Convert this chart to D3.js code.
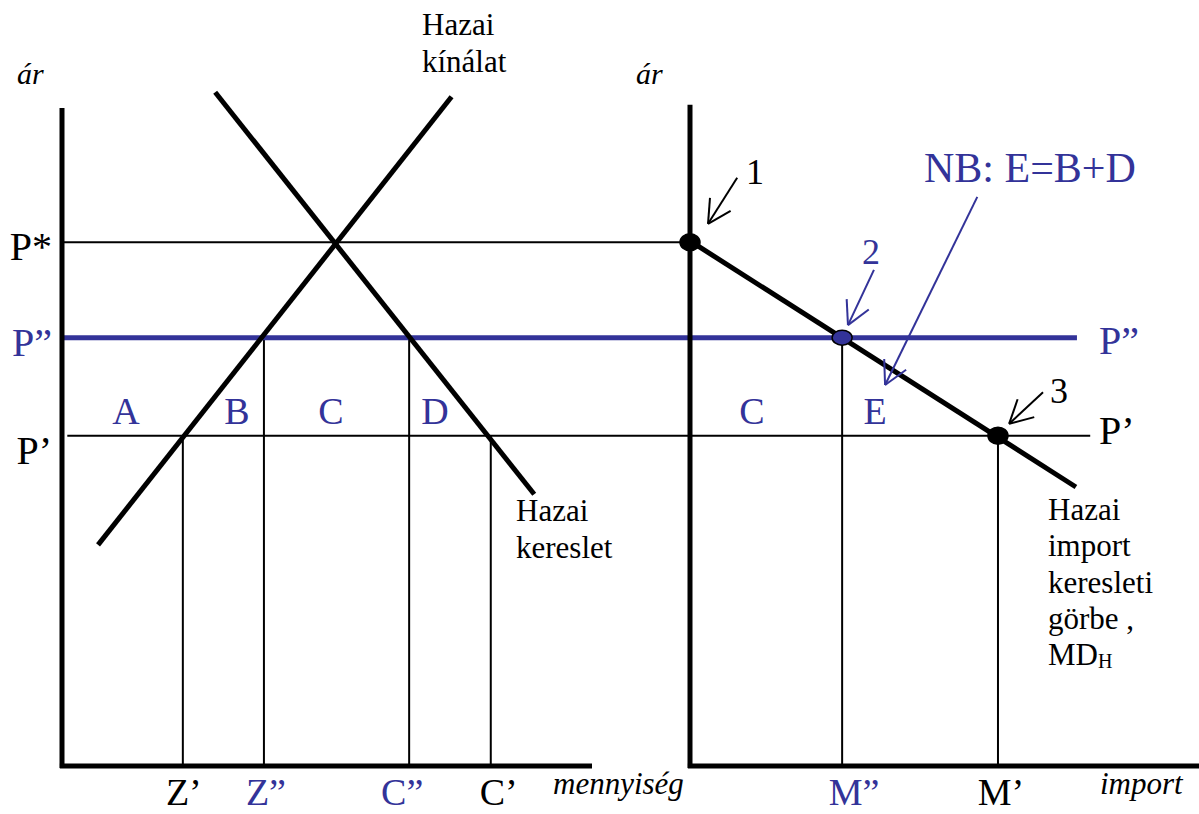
<!DOCTYPE html>
<html>
<head>
<meta charset="utf-8">
<script src="https://cdn.jsdelivr.net/npm/d3@7"></script>
<style>
  body { margin: 0; background: #fff; }
  svg { display: block; }
  text { font-family: "Liberation Serif", "Times New Roman", serif; }
</style>
</head>
<body>
<div id="chart"></div>
<script>
// árszintek (közös függőleges tengely)
const priceNames = ['P*', 'P\u201D', 'P\u2019'];
const priceValues = [7.96, 6.51, 5.02];

// bal oldali panel: mennyiségek
const qtyNames = ['Z\u2019', 'Z\u201D', 'C\u201D', 'C\u2019'];
const qtyValues = [2.28, 3.81, 6.55, 8.09];
const qtyPrice = [5.02, 6.51, 6.51, 5.02];

// jobb oldali panel: import
const importNames = ['M\u201D', 'M\u2019'];
const importValues = [2.87, 5.81];
const importPrice = [6.51, 5.02];

// görbék [mennyiség, ár]
const supplyCurve = [[0.68, 3.36], [7.35, 10.17]];
const demandCurve = [[2.89, 10.24], [8.91, 4.13]];
const importDemand = [[0, 7.98], [7.28, 4.24]];

// pontok a MD görbén
const pointImport = [0, 2.87, 5.81];
const pointPrice = [7.96, 6.51, 5.02];

// nyilak (jobb panel egységekben): [x1, y1, x2, y2]
const arrowBlack = [[0.89, 8.94, 0.34, 8.24], [6.66, 5.68, 6.02, 5.20]];
const arrowBlue = [[3.47, 7.54, 2.98, 6.70], [5.42, 8.65, 3.68, 5.79]];

const BLUE = '#333399';
const W = 1199, H = 814;

const svg = d3.select('#chart').append('svg')
    .attr('width', W).attr('height', H);

const y = d3.scaleLinear().domain([0, 10]).range([766, 108]);
const xL = d3.scaleLinear().domain([0, 10]).range([62, 592]);
const xR = d3.scaleLinear().domain([0, 9.64]).range([690, 1201]);

const line = (g, x1, y1, x2, y2, color, w) => g.append('line')
    .attr('x1', x1).attr('y1', y1).attr('x2', x2).attr('y2', y2)
    .attr('stroke', color).attr('stroke-width', w);

const label = (txt, x, yy, size, color, opts = {}) => svg.append('text')
    .attr('x', x).attr('y', yy)
    .attr('font-size', size)
    .attr('fill', color)
    .attr('text-anchor', opts.anchor || 'start')
    .attr('font-style', opts.italic ? 'italic' : 'normal')
    .text(txt);

const g = svg.append('g');

// vékony vonalak: P* és P'
line(g, xL(0), y(priceValues[0]), xR(0), y(priceValues[0]), '#000', 2);
line(g, xL(0.1), y(priceValues[2]), xR(7.55), y(priceValues[2]), '#000', 2);

// függőleges segédvonalak
qtyValues.forEach((q, i) => line(g, xL(q), y(qtyPrice[i]), xL(q), y(0), '#000', 2));
importValues.forEach((q, i) => line(g, xR(q), y(importPrice[i]), xR(q), y(0), '#000', 2));

// P'' világpiaci ár + vám
line(g, xL(0), y(priceValues[1]), xR(7.3), y(priceValues[1]), BLUE, 5);

// tengelyek
line(g, xL(0), y(10), xL(0), y(0) + 2, '#000', 5);
line(g, xL(-0.04), y(0), xL(10), y(0), '#000', 5);
line(g, xR(0), y(10.05), xR(0), y(0) + 2, '#000', 5);
line(g, xR(-0.04), y(0), xR(9.64), y(0), '#000', 5);

// kínálat, kereslet, import kereslet
[[supplyCurve, xL], [demandCurve, xL], [importDemand, xR]].forEach(([c, sx]) => {
    line(g, sx(c[0][0]), y(c[0][1]), sx(c[1][0]), y(c[1][1]), '#000', 5);
});

// nyilak
function arrow(a, color) {
    const [x1, y1, x2, y2] = [xR(a[0]), y(a[1]), xR(a[2]), y(a[3])];
    const ang = Math.atan2(y1 - y2, x1 - x2);
    const len = 26, spread = 28 * Math.PI / 180;
    line(g, x1, y1, x2, y2, color, 2);
    [-spread, spread].forEach(s => {
        line(g, x2, y2, x2 + len * Math.cos(ang + s), y2 + len * Math.sin(ang + s), color, 2);
    });
}
arrowBlack.forEach(a => arrow(a, '#000'));
arrowBlue.forEach(a => arrow(a, BLUE));

// pontok
pointImport.forEach((q, i) => {
    g.append('ellipse')
        .attr('cx', xR(q)).attr('cy', y(pointPrice[i]))
        .attr('rx', 10).attr('ry', i === 1 ? 7.5 : 8.5)
        .attr('fill', i === 1 ? BLUE : '#000')
        .attr('stroke', '#000').attr('stroke-width', 1.5);
});

// árcímkék bal oldalon
const priceColors = ['#000', BLUE, '#000'];
const priceDy = [18, 18, 28];
priceNames.forEach((p, i) => label(p, 52, y(priceValues[i]) + priceDy[i], 40, priceColors[i], { anchor: 'end' }));
label(priceNames[1], 1099, y(priceValues[1]) + 16, 40, BLUE);
label(priceNames[2], 1099, y(priceValues[2]) + 8, 40, '#000');

// mennyiség cimkék alul (a keret aljáig)
const qtyColors = ['#000', BLUE, BLUE, '#000'];
const qtyDx = [1, 2, -7, 8];
qtyNames.forEach((n, i) => label(n, xL(qtyValues[i]) + qtyDx[i], 805, 38, qtyColors[i], { anchor: 'middle' }));
const impColors = [BLUE, '#000'];
const impDx = [12, 3];
importNames.forEach((n, i) => label(n, xR(importValues[i]) + impDx[i], 805, 38, impColors[i], { anchor: 'middle' }));

// területek betűi
[['A', 126], ['B', 237], ['C', 331], ['D', 435], ['C', 752], ['E', 875]].forEach(([t, x]) => {
    label(t, x, 424, 38, BLUE, { anchor: 'middle' });
});

// tengelyfeliratok
label('ár', 17, 84, 30, '#000', { italic: true });
label('ár', 636, 84, 30, '#000', { italic: true });
label('mennyiség', 553, 794, 31, '#000', { italic: true });
label('import', 1100, 794, 31, '#000', { italic: true });

// görbék nevei
label('Hazai', 422, 35, 31, '#000');
label('kínálat', 422, 72, 31, '#000');
label('Hazai', 516, 521, 31, '#000');
label('kereslet', 516, 558, 31, '#000');
['Hazai', 'import', 'keresleti', 'görbe ,'].forEach((t, i) => label(t, 1048, 520 + i * 36.3, 31, '#000'));
const md = label('MD', 1048, 520 + 4 * 36.3, 31, '#000');
md.append('tspan').attr('font-size', 20).attr('dy', 3).text('H');

// számozott pontok + megjegyzés
label('1', 746, 184, 36, '#000');
label('2', 862, 264, 36, BLUE);
label('3', 1050, 403, 36, '#000');
label('NB: E=B+D', 924, 182, 42, BLUE);
</script>
</body>
</html>
